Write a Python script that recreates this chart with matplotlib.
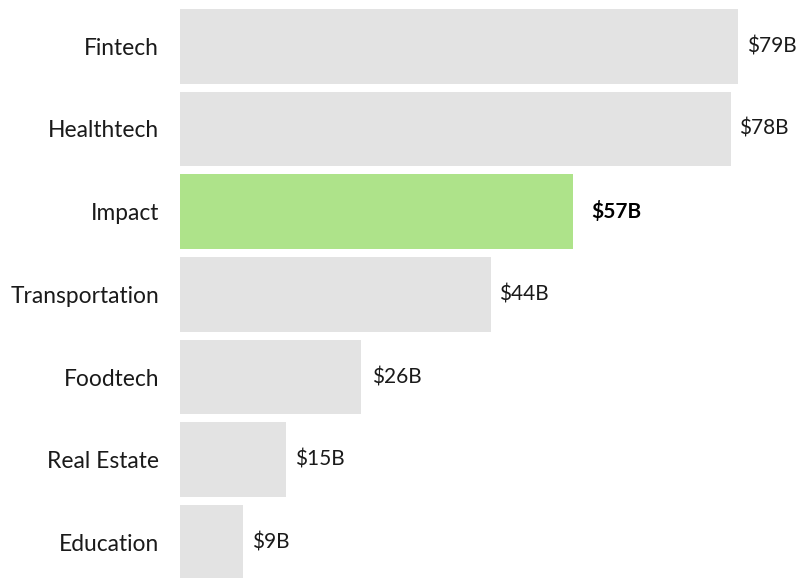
import matplotlib
matplotlib.use("Agg")
import matplotlib.pyplot as plt

categories = ["Fintech", "Healthtech", "Impact", "Transportation", "Foodtech", "Real Estate", "Education"]
bar_values = [79, 78, 55.7, 44, 25.6, 15, 8.9]
label_values = [79, 78, 57, 44, 26, 15, 9]
highlight = "Impact"

GRAY = "#e3e3e3"
GREEN = "#aee38a"
TEXT = "#1a1a1a"

plt.rcParams['font.family'] = ['Lato', 'DejaVu Sans']

fig = plt.figure(figsize=(8, 5.78), dpi=100)
ax = fig.add_axes([180 / 800, 0, 620 / 800, 1])
ax.set_xlim(0, 620 / 7.06)
ax.set_ylim((578 - 46.3) / 82.7, -46.3 / 82.7)

ys = list(range(len(categories)))
colors = [GREEN if c == highlight else GRAY for c in categories]
ax.barh(ys, bar_values, height=0.903, color=colors, linewidth=0)

for y, c, lv in zip(ys, categories, label_values):
    bold = c == highlight
    ax.text(lv + 1.25, y, f"${lv}B", va="center", ha="left",
            fontsize=15, color="#000000" if bold else TEXT,
            fontweight="bold" if bold else "normal")

ax.set_yticks(ys)
ax.set_yticklabels(categories, fontsize=16.4, color=TEXT)
ax.tick_params(axis="y", length=0, pad=15)
ax.tick_params(axis="x", bottom=False, labelbottom=False)
for s in ax.spines.values():
    s.set_visible(False)

fig.savefig("out.png", dpi=100)
